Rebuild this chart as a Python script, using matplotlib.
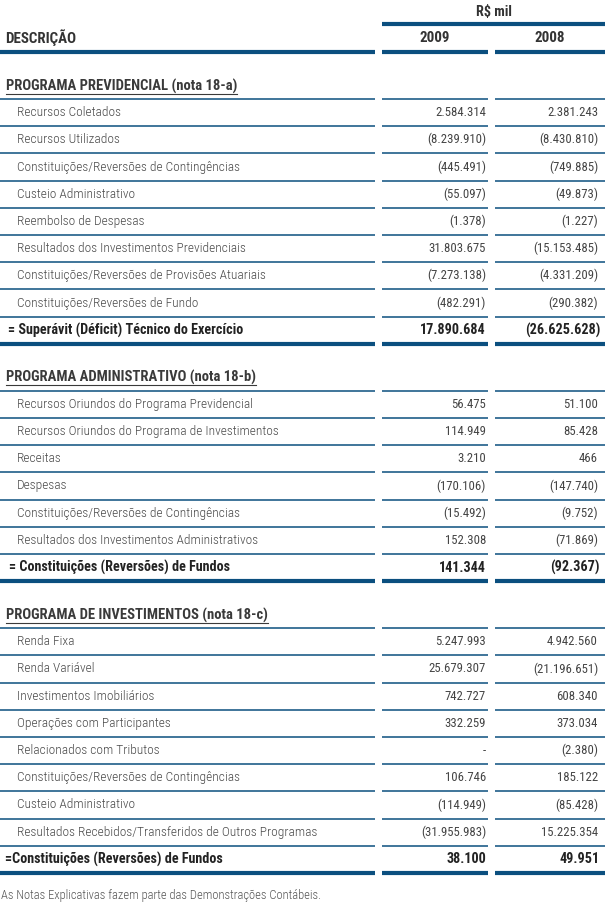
import matplotlib
matplotlib.use('Agg')
import matplotlib.pyplot as plt
import matplotlib.font_manager as fm

# fonte estreita, se houver
nomes = {f.name for f in fm.fontManager.ttflist}
fonte = 'DejaVu Sans'
for nome in ['Liberation Sans Narrow', 'Roboto Condensed', 'Lato', 'Roboto']:
    if nome in nomes:
        fonte = nome
        break
plt.rcParams['font.family'] = [fonte, 'DejaVu Sans']

# dados da tabela
anos = ['2009', '2008']

sec1_titulo = 'PROGRAMA PREVIDENCIAL (nota 18-a)'
sec1_itens = ['Recursos Coletados', 'Recursos Utilizados',
              'Constituições/Reversões de Contingências', 'Custeio Administrativo',
              'Reembolso de Despesas', 'Resultados dos Investimentos Previdenciais',
              'Constituições/Reversões de Provisões Atuariais',
              'Constituições/Reversões de Fundo']
sec1_2009 = ['2.584.314', '(8.239.910)', '(445.491)', '(55.097)', '(1.378)',
             '31.803.675', '(7.273.138)', '(482.291)']
sec1_2008 = ['2.381.243', '(8.430.810)', '(749.885)', '(49.873)', '(1.227)',
             '(15.153.485)', '(4.331.209)', '(290.382)']
sec1_total = ['= Superávit (Déficit) Técnico do Exercício', '17.890.684', '(26.625.628)']

sec2_titulo = 'PROGRAMA ADMINISTRATIVO (nota 18-b)'
sec2_itens = ['Recursos Oriundos do Programa Previdencial',
              'Recursos Oriundos do Programa de Investimentos', 'Receitas', 'Despesas',
              'Constituições/Reversões de Contingências',
              'Resultados dos Investimentos Administrativos']
sec2_2009 = ['56.475', '114.949', '3.210', '(170.106)', '(15.492)', '152.308']
sec2_2008 = ['51.100', '85.428', '466', '(147.740)', '(9.752)', '(71.869)']
sec2_total = ['= Constituições (Reversões) de Fundos', '141.344', '(92.367)']

sec3_titulo = 'PROGRAMA DE INVESTIMENTOS (nota 18-c)'
sec3_itens = ['Renda Fixa', 'Renda Variável', 'Investimentos Imobiliários',
              'Operações com Participantes', 'Relacionados com Tributos',
              'Constituições/Reversões de Contingências', 'Custeio Administrativo',
              'Resultados Recebidos/Transferidos de Outros Programas']
sec3_2009 = ['5.247.993', '25.679.307', '742.727', '332.259', '-', '106.746',
             '(114.949)', '(31.955.983)']
sec3_2008 = ['4.942.560', '(21.196.651)', '608.340', '373.034', '(2.380)', '185.122',
             '(85.428)', '15.225.354']
sec3_total = ['=Constituições (Reversões) de Fundos', '38.100', '49.951']

rodape = 'As Notas Explicativas fazem parte das Demonstrações Contábeis.'

secoes = [
    (sec1_titulo, sec1_itens, sec1_2009, sec1_2008, sec1_total, 8),
    (sec2_titulo, sec2_itens, sec2_2009, sec2_2008, sec2_total, 9),
    (sec3_titulo, sec3_itens, sec3_2009, sec3_2008, sec3_total, 5),
]

# cores
azul = '#0b4f7f'
cinza = '#4a4a4a'
escuro = '#222222'

W, H = 605, 902
fig = plt.figure(figsize=(W / 100, H / 100), dpi=100)
ax = fig.add_axes([0, 0, 1, 1])
ax.set_xlim(0, W)
ax.set_ylim(H, 0)
ax.axis('off')

# colunas (inicio, fim)
cols = [(0, 375), (382, 488), (495, 605)]
fs = 9.6
fn = 9.2
fb = 10.2
grosso = 3.0
fino = 1.1
x09 = cols[1][1] - 2
x08 = cols[2][1] - 7


def linha(y, lw):
    for a, b in cols:
        ax.plot([a, b], [y, y], color=azul, lw=lw, solid_capstyle='butt')


# cabecalho
ax.text((cols[1][0] + cols[2][1]) / 2, 12, 'R$ mil', ha='center', va='center',
        fontsize=fb, fontweight='bold', color='#333333')
ax.plot([cols[1][0], cols[2][1]], [24, 24], color=azul, lw=grosso, solid_capstyle='butt')
ax.text(5, 38, 'DESCRIÇÃO', ha='left', va='center', fontsize=fb + 0.6,
        fontweight='bold', color='#333333')
for (a, b), ano in zip(cols[1:], anos):
    ax.text((a + b) / 2, 38, ano, ha='center', va='center', fontsize=fb + 0.6,
            fontweight='bold', color='#333333')
linha(52, grosso)

h = 27.2
y = 99
titulos = []
for titulo, itens, v09, v08, total, xt in secoes:
    t = ax.text(6, y - 13, titulo, ha='left', va='center', fontsize=fb + 0.3,
                fontweight='bold', color='#3a3a3a')
    titulos.append((t, y - 13))
    linha(y, fino)
    for i, item in enumerate(itens):
        yc = y + h * i + h / 2
        ax.text(17, yc, item, ha='left', va='center', fontsize=fs,
                fontweight='light', color=cinza)
        ax.text(x09, yc, v09[i], ha='right', va='center', fontsize=fn, color='#444444')
        ax.text(x08, yc, v08[i], ha='right', va='center', fontsize=fn, color='#444444')
        linha(y + h * (i + 1), fino)
    yc = y + h * len(itens) + h / 2
    ax.text(xt, yc, total[0], ha='left', va='center', fontsize=fb,
            fontweight='bold', color=escuro)
    ax.text(x09, yc, total[1], ha='right', va='center', fontsize=fb,
            fontweight='bold', color=escuro)
    ax.text(x08 + 2, yc, total[2], ha='right', va='center', fontsize=fb,
            fontweight='bold', color=escuro)
    y = y + h * (len(itens) + 1)
    linha(y, grosso)
    y = y + 47

ax.text(1, 895, rodape, ha='left', va='center', fontsize=fs - 0.6,
        fontweight='light', color='#555555')

# sublinhado dos titulos
fig.canvas.draw()
r = fig.canvas.get_renderer()
inv = ax.transData.inverted()
for t, yt in titulos:
    bb = t.get_window_extent(r)
    x0, _ = inv.transform((bb.x0, 0))
    x1, _ = inv.transform((bb.x1, 0))
    ax.plot([x0, x1], [yt + 7.5, yt + 7.5], color='#3a3a3a', lw=0.8)

fig.savefig('out.png', dpi=100)
